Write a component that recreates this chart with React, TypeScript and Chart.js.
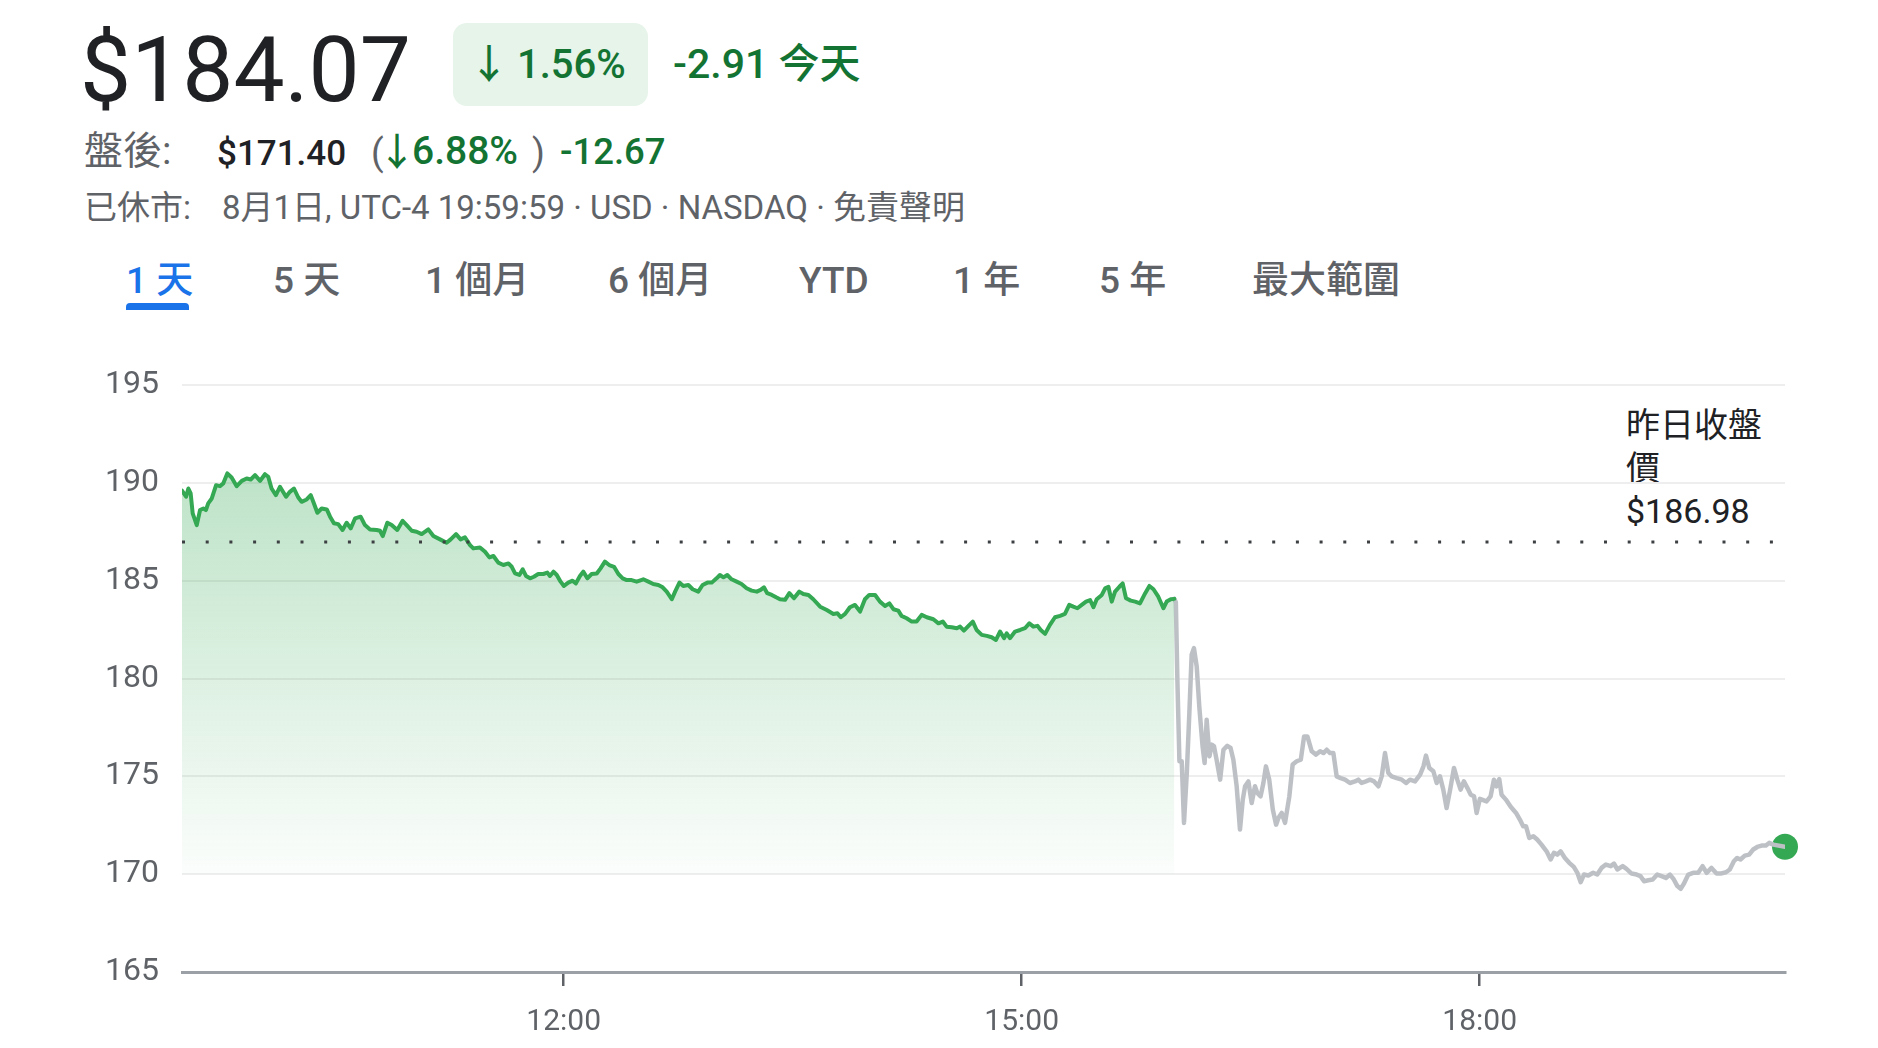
import React, { useEffect, useRef } from "react";
import { Chart, registerables } from "chart.js";

Chart.register(...registerables);

// ---- data (times in minutes since midnight, prices in USD) ----
const REG_TIMES = [
  570, 571.6, 572.5, 573.4, 574.2, 575.8, 577.1, 578.4, 579.4, 580.3, 581.7, 583.4, 584.9, 586.2, 587.8, 589.5,
  591.5, 593.5, 595.4, 597.0, 598.7, 600.7, 602.6, 603.9, 605.2, 606.9, 608.5, 610.9, 612.4, 614.0, 615.7, 617.0,
  619.0, 620.6, 621.6, 623.2, 624.9, 626.9, 628.2, 629.7, 631.4, 633.1, 634.7, 636.3, 638.0, 640.2, 641.9, 643.9,
  646.5, 647.8, 648.9, 650.7, 652.4, 654.6, 656.7, 658.3, 660.3, 662.2, 664.2, 666.8, 668.8, 671.4, 674.0, 675.6,
  677.7, 679.5, 681.2, 683.2, 684.5, 687.1, 689.1, 690.8, 692.4, 694.3, 696.3, 698.3, 699.6, 700.9, 702.6, 703.9,
  705.2, 706.8, 708.3, 710.0, 712.0, 713.6, 714.6, 716.0, 717.3, 718.8, 720.1, 721.8, 723.5, 724.8, 726.4, 727.7,
  729.3, 731.0, 733.0, 734.5, 736.2, 737.9, 739.8, 741.5, 743.2, 744.8, 746.7, 748.7, 751.3, 753.3, 755.2, 757.2,
  758.9, 760.5, 762.5, 763.8, 765.5, 767.0, 769.0, 770.7, 772.9, 774.6, 776.5, 778.2, 780.1, 781.4, 782.8, 784.3,
  786.0, 788.0, 789.9, 791.9, 793.9, 795.9, 797.4, 798.7, 800.0, 801.8, 803.5, 805.0, 807.0, 808.7, 810.5, 812.6,
  814.2, 816.2, 818.1, 820.8, 823.4, 826.0, 827.6, 828.9, 830.6, 832.5, 834.5, 836.5, 838.4, 840.1, 842.4, 844.3,
  846.3, 848.0, 849.6, 851.5, 852.8, 854.8, 856.8, 858.7, 860.7, 862.7, 865.3, 867.3, 869.0, 870.5, 872.5, 874.5,
  875.8, 877.3, 879.1, 880.8, 882.3, 884.3, 886.3, 888.2, 889.9, 891.5, 893.1, 894.1, 895.4, 897.4, 899.4, 901.3,
  903.0, 904.6, 906.2, 907.5, 909.2, 911.1, 913.1, 915.1, 917.0, 918.7, 920.3, 921.9, 923.6, 925.3, 926.9, 928.2,
  929.5, 931.5, 932.8, 934.1, 935.4, 936.7, 938.4, 939.7, 941.0, 942.9, 944.6, 946.5, 948.5, 950.2, 951.8, 953.7,
  955.7, 957.0, 958.6, 960,
];
const REG_PRICES = [
  189.6, 189.29, 189.71, 189.46, 188.44, 187.84, 188.61, 188.69, 188.61, 188.95, 189.2, 189.88, 189.83, 189.97, 190.48, 190.27,
  189.83, 190.1, 190.22, 190.17, 190.39, 190.1, 190.44, 190.31, 189.71, 189.37, 189.8, 189.29, 189.54, 189.71, 189.25, 189.03,
  189.15, 189.37, 189.03, 188.47, 188.69, 188.64, 188.27, 187.93, 187.89, 187.59, 187.96, 187.67, 188.18, 188.27, 187.84, 187.62,
  187.59, 187.55, 187.28, 187.96, 187.84, 187.59, 188.06, 187.84, 187.55, 187.5, 187.38, 187.62, 187.28, 187.11, 186.94, 187.11,
  187.38, 187.11, 187.21, 186.82, 186.65, 186.7, 186.48, 186.19, 186.26, 185.92, 185.8, 185.88, 185.71, 185.37, 185.29, 185.58,
  185.24, 185.12, 185.2, 185.34, 185.34, 185.41, 185.24, 185.46, 185.29, 184.95, 184.73, 184.9, 185.0, 184.86, 185.24, 185.46,
  185.12, 185.34, 185.37, 185.63, 185.97, 185.8, 185.71, 185.34, 185.12, 185.03, 185.03, 184.95, 185.07, 184.95, 184.83, 184.78,
  184.66, 184.44, 184.05, 184.44, 184.9, 184.73, 184.78, 184.56, 184.44, 184.78, 184.9, 184.9, 185.12, 185.29, 185.17, 185.29,
  185.07, 184.95, 184.83, 184.61, 184.49, 184.44, 184.53, 184.66, 184.36, 184.27, 184.15, 184.05, 184.02, 184.36, 184.1, 184.44,
  184.32, 184.27, 184.05, 183.67, 183.5, 183.3, 183.33, 183.13, 183.3, 183.64, 183.76, 183.42, 184.05, 184.27, 184.27, 183.93,
  183.71, 183.84, 183.54, 183.47, 183.2, 183.08, 182.91, 182.91, 183.25, 183.13, 183.03, 182.82, 182.91, 182.65, 182.62, 182.57,
  182.65, 182.45, 182.69, 182.91, 182.48, 182.23, 182.18, 182.11, 181.97, 182.4, 182.06, 182.31, 182.06, 182.4, 182.48, 182.57,
  182.82, 182.65, 182.69, 182.48, 182.28, 182.74, 183.13, 183.2, 183.3, 183.76, 183.67, 183.59, 183.76, 183.93, 184.01, 183.64,
  184.05, 184.27, 184.61, 184.69, 183.93, 184.44, 184.69, 184.86, 184.1, 183.98, 183.93, 183.84, 184.35, 184.73, 184.56, 184.18,
  183.59, 183.93, 184.05, 184.07,
];
const AH_TIMES = [
  960, 960.6, 961.2, 962.0, 962.9, 963.8, 964.9, 965.9, 966.8, 967.7, 968.8, 969.8, 971.1, 971.9, 972.7, 973.8,
  974.7, 975.6, 976.6, 978.0, 979.3, 980.8, 982.1, 983.2, 984.5, 985.8, 986.9, 987.8, 989.1, 990.4, 991.7, 992.6,
  993.9, 995.0, 996.0, 997.3, 998.7, 1000.0, 1000.9, 1002.2, 1003.5, 1005.2, 1006.5, 1008.1, 1009.7, 1011.0, 1012.3, 1014.0,
  1015.7, 1017.3, 1018.6, 1019.9, 1021.2, 1022.5, 1023.8, 1025.4, 1027.1, 1029.0, 1031.0, 1032.3, 1033.6, 1035.3, 1036.9, 1038.5,
  1040.2, 1041.5, 1042.8, 1044.1, 1045.4, 1047.4, 1049.4, 1051.1, 1052.6, 1054.6, 1056.6, 1057.9, 1058.9, 1060.2, 1061.8, 1063.1,
  1064.4, 1065.7, 1067.0, 1068.4, 1069.9, 1071.2, 1072.5, 1073.8, 1075.2, 1076.5, 1077.8, 1078.8, 1080.1, 1082.7, 1084.3, 1085.6,
  1086.6, 1087.7, 1088.6, 1090.3, 1092.2, 1094.3, 1095.8, 1097.1, 1098.2, 1099.5, 1101.1, 1102.6, 1104.3, 1106.3, 1107.9, 1109.2,
  1110.5, 1111.8, 1113.5, 1115.2, 1117.0, 1118.4, 1119.7, 1121.0, 1122.7, 1124.6, 1126.2, 1127.9, 1129.6, 1131.5, 1132.8, 1134.1,
  1136.2, 1137.7, 1139.7, 1141.7, 1143.2, 1144.6, 1146.3, 1148.0, 1149.8, 1151.5, 1153.2, 1154.8, 1156.3, 1157.7, 1159.0, 1160.3,
  1162.0, 1163.9, 1165.9, 1167.6, 1169.2, 1171.1, 1173.1, 1174.7, 1176.8, 1178.3, 1179.9, 1181.2, 1182.5, 1184.2, 1185.9, 1187.5,
  1189.1, 1190.8, 1192.5, 1193.8, 1195.4, 1200,
];
const AH_PRICES = [
  184.07, 183.9, 179.93, 175.77, 175.77, 172.62, 175.17, 178.23, 181.21, 181.55, 180.61, 178.57, 176.53, 175.68, 177.89, 176.02,
  176.62, 176.53, 175.85, 174.83, 176.36, 176.56, 176.45, 175.85, 174.49, 172.28, 173.81, 174.49, 174.74, 173.64, 174.49, 174.15,
  173.98, 174.66, 175.51, 174.83, 173.3, 172.53, 172.87, 173.13, 172.62, 173.98, 175.6, 175.77, 175.85, 177.04, 177.04, 176.28,
  176.11, 176.28, 176.19, 176.36, 176.19, 176.19, 175.0, 174.91, 174.83, 174.66, 174.74, 174.83, 174.66, 174.74, 174.83, 174.74,
  174.49, 175.0, 176.19, 175.17, 175.0, 174.91, 174.83, 174.66, 174.83, 174.74, 175.09, 175.51, 176.06, 175.43, 175.26, 174.66,
  175.0, 174.32, 173.38, 174.32, 175.43, 174.83, 174.32, 174.74, 174.4, 174.06, 173.98, 173.13, 173.85, 173.72, 173.98, 174.83,
  174.49, 174.86, 174.06, 173.81, 173.44, 173.13, 172.79, 172.45, 172.45, 171.85, 171.94, 171.77, 171.51, 171.17, 170.75, 171.09,
  171.0, 171.17, 170.83, 170.58, 170.37, 170.07, 169.59, 169.98, 169.93, 170.07, 169.98, 170.32, 170.49, 170.41, 170.54, 170.24,
  170.41, 170.27, 170.03, 169.98, 169.9, 169.64, 169.69, 169.73, 169.98, 169.9, 169.81, 169.98, 169.73, 169.39, 169.25, 169.52,
  169.98, 170.07, 170.07, 170.41, 170.07, 170.32, 170.03, 170.03, 170.1, 170.24, 170.66, 170.83, 170.75, 170.95, 171.0, 171.26,
  171.39, 171.46, 171.46, 171.6, 171.51, 171.4,
];
const PREV_CLOSE = 186.98;
const FILL_BASE = 170;
const Y_TICKS = [165, 170, 175, 180, 185, 190, 195];
const X_TICKS = ["12:00", "15:00", "18:00"];
const X_RANGE = ["09:30", "20:00"];
const TABS = ["1 天", "5 天", "1 個月", "6 個月", "YTD", "1 年", "5 年", "最大範圍"];

const FONT = "Roboto, 'Noto Sans CJK TC', 'Noto Sans', sans-serif";
const toMin = (s: string) => {
  const [h, m] = s.split(":").map(Number);
  return h * 60 + m;
};

const TAB_LEFT = [126, 273, 425, 608, 799, 953, 1099, 1252];

function abs(left: number, baseline: number, size: number, extra: React.CSSProperties = {}): React.CSSProperties {
  return {
    position: "absolute",
    left,
    top: Math.round(baseline - 0.842 * size),
    fontSize: size,
    lineHeight: 1,
    whiteSpace: "nowrap",
    fontFamily: FONT,
    ...extra,
  };
}

export default function App() {
  const ref = useRef<HTMLCanvasElement | null>(null);

  useEffect(() => {
    const canvas = ref.current;
    if (!canvas) return;
    const reg = REG_TIMES.map((t, i) => ({ x: t, y: REG_PRICES[i] }));
    const ah = AH_TIMES.map((t, i) => ({ x: t, y: AH_PRICES[i] }));
    const last = ah[ah.length - 1];

    const prevClosePlugin = {
      id: "prevClose",
      afterDatasetsDraw(chart: any) {
        const { ctx, chartArea, scales } = chart;
        const y = scales.y.getPixelForValue(PREV_CLOSE);
        ctx.save();
        ctx.strokeStyle = "#3c4043";
        ctx.lineWidth = 3;
        ctx.setLineDash([3, 20.7]);
        ctx.beginPath();
        ctx.moveTo(chartArea.left, y);
        ctx.lineTo(chartArea.right - 12, y);
        ctx.stroke();
        ctx.restore();
      },
    };

    const chart = new Chart(canvas, {
      type: "line",
      data: {
        datasets: [
          {
            data: reg,
            borderColor: "#34a853",
            borderWidth: 4,
            pointRadius: 0,
            tension: 0,
            borderJoinStyle: "round",
            borderCapStyle: "round",
            fill: { value: FILL_BASE },
            backgroundColor: (c: any) => {
              const { chart } = c;
              const area = chart.chartArea;
              if (!area) return "rgba(52,168,83,0.2)";
              const ys = chart.scales.y;
              const g = chart.ctx.createLinearGradient(0, ys.getPixelForValue(191), 0, ys.getPixelForValue(FILL_BASE));
              g.addColorStop(0, "rgba(52,168,83,0.33)");
              g.addColorStop(1, "rgba(52,168,83,0.02)");
              return g;
            },
          } as any,
          {
            data: ah,
            borderColor: "#bdc1c6",
            borderWidth: 4.5,
            pointRadius: 0,
            tension: 0,
            borderJoinStyle: "round",
            borderCapStyle: "round",
            fill: false,
          } as any,
          {
            data: [last],
            showLine: false,
            pointRadius: 13,
            pointBackgroundColor: "#34a853",
            pointBorderWidth: 0,
            clip: false,
          } as any,
        ],
      },
      options: {
        animation: false,
        responsive: false,
        devicePixelRatio: 1,
        events: [],
        layout: { padding: { left: 0, top: 55, right: 93, bottom: 0 } },
        plugins: { legend: { display: false }, tooltip: { enabled: false } },
        scales: {
          x: {
            type: "linear",
            min: toMin(X_RANGE[0]),
            max: toMin(X_RANGE[1]),
            afterBuildTicks: (s: any) => {
              s.ticks = X_TICKS.map((l) => ({ value: toMin(l) }));
            },
            afterFit: (s: any) => {
              s.height = 76;
            },
            ticks: {
              autoSkip: false,
              maxRotation: 0,
              padding: 18,
              color: "#5f6368",
              font: { family: FONT, size: 30 },
              callback: (_v: any, i: number) => X_TICKS[i],
            },
            grid: { drawOnChartArea: false, drawTicks: true, tickLength: 14, color: "#5f6368", lineWidth: 2.5 },
            border: { display: true, color: "#9aa0a6", width: 3 },
          },
          y: {
            type: "linear",
            min: Y_TICKS[0],
            max: Y_TICKS[Y_TICKS.length - 1],
            afterBuildTicks: (s: any) => {
              s.ticks = Y_TICKS.map((v) => ({ value: v }));
            },
            afterFit: (s: any) => {
              s.width = 182;
            },
            ticks: {
              padding: 23,
              color: "#5f6368",
              font: { family: FONT, size: 32 },
              callback: (v: any) => String(v),
            },
            grid: { color: "#eeeeee", lineWidth: 2, drawTicks: false },
            border: { display: false },
          },
        },
      },
      plugins: [prevClosePlugin],
    });
    return () => chart.destroy();
  }, []);

  const gray = "#5f6368";
  const green = "#137333";

  return (
    <div style={{ position: "absolute", left: 0, top: 0, width: 1878, height: 1048, background: "#fff", overflow: "hidden", fontFamily: FONT }}>
      <div style={abs(80, 102, 91, { color: "#202124" })}>$184.07</div>

      <div style={{ position: "absolute", left: 453, top: 23, width: 195, height: 83, borderRadius: 14, background: "#e6f4ea" }} />
      <div style={abs(469, 79, 40, { color: green, fontWeight: 500 })}>↓</div>
      <div style={abs(517, 79, 40, { color: green, fontWeight: 500 })}>1.56%</div>
      <div style={abs(673, 79, 41, { color: green, fontWeight: 500 })}>-2.91 今天</div>

      <div style={abs(84, 165, 39, { color: gray })}>盤後:</div>
      <div style={abs(217, 165, 35, { color: "#202124", fontWeight: 500 })}>$171.40</div>
      <div style={abs(371, 165, 37, { color: gray })}>(</div>
      <div style={abs(378, 165, 38, { color: green, fontWeight: 500 })}>↓</div>
      <div style={abs(412, 165, 39, { color: green, fontWeight: 500 })}>6.88%</div>
      <div style={abs(532, 165, 37, { color: gray })}>)</div>
      <div style={abs(560, 165, 36.5, { color: green, fontWeight: 500 })}>-12.67</div>

      <div style={abs(84, 219, 33, { color: gray })}>已休市:</div>
      <div style={abs(222, 219, 33, { color: gray })}>8月1日, UTC-4 19:59:59 · USD · NASDAQ · 免責聲明</div>

      {TABS.map((t, i) => (
        <div key={t} style={abs(TAB_LEFT[i], 293, 37, { color: i === 0 ? "#1a73e8" : gray, fontWeight: 500 })}>
          {t}
        </div>
      ))}
      <div style={{ position: "absolute", left: 126, top: 303, width: 63, height: 7, borderRadius: "4px 4px 0 0", background: "#1a73e8" }} />

      <div style={{ position: "absolute", left: 1626, top: 404, width: 145, fontSize: 34, lineHeight: "43px", color: "#202124", fontFamily: FONT }}>
        <div>昨日收盤價</div>
        <div>${PREV_CLOSE.toFixed(2)}</div>
      </div>

      <canvas ref={ref} width={1878} height={718} style={{ position: "absolute", left: 0, top: 330, width: 1878, height: 718 }} />
    </div>
  );
}
